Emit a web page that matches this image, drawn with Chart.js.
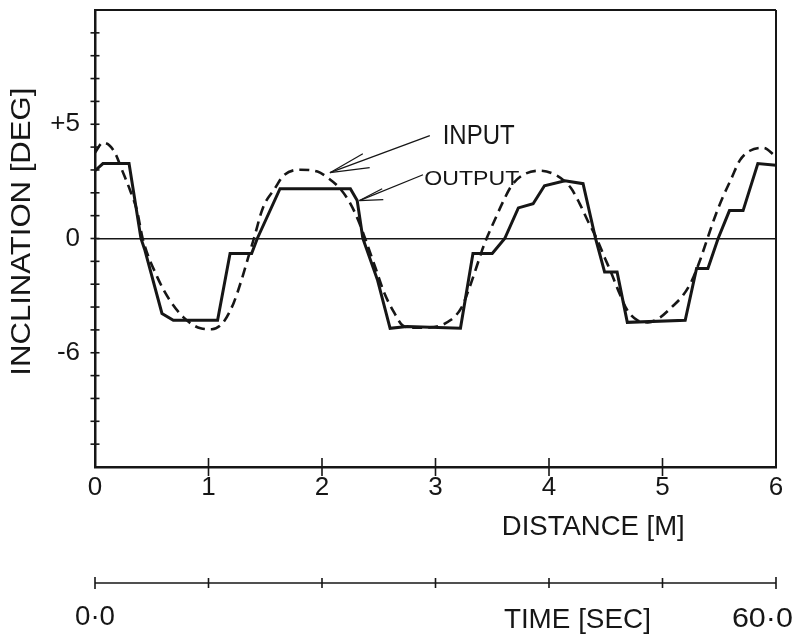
<!DOCTYPE html>
<html>
<head>
<meta charset="utf-8">
<script src="https://cdn.jsdelivr.net/npm/chart.js@4.4.1/dist/chart.umd.min.js"></script>
<style>
  html, body { margin: 0; padding: 0; background: #fff; }
  #wrap { width: 800px; height: 635px; position: relative; }
</style>
</head>
<body>
<div id="wrap"><canvas id="c"></canvas></div>
<script>
// y values are in plotted tick units (one tick per unit)
const outX = [0, 0.07, 0.30, 0.405, 0.44, 0.59, 0.69, 1.08, 1.19, 1.38, 1.43, 1.63, 2.25, 2.31, 2.36, 2.49, 2.60, 2.75, 3.22, 3.33, 3.50, 3.61, 3.73, 3.86, 3.96, 4.14, 4.30, 4.41, 4.49, 4.60, 4.69, 5.20, 5.30, 5.40, 5.49, 5.59, 5.71, 5.84, 6.0];
const outY = [2.97, 3.28, 3.28, 0, -0.52, -3.28, -3.58, -3.58, -0.66, -0.66, 0, 2.18, 2.18, 1.66, 0, -1.83, -3.93, -3.85, -3.93, -0.66, -0.66, 0, 1.34, 1.52, 2.31, 2.53, 2.40, 0, -1.47, -1.47, -3.67, -3.58, -1.31, -1.31, 0, 1.22, 1.22, 3.28, 3.2];

const inX = [0, 0.07, 0.13, 0.18, 0.24, 0.31, 0.37, 0.42, 0.55, 0.66, 0.78, 0.93, 1.03, 1.13, 1.22, 1.29, 1.35, 1.40, 1.48, 1.59, 1.66, 1.81, 1.96, 2.05, 2.16, 2.25, 2.32, 2.38, 2.47, 2.55, 2.64, 2.71, 2.80, 2.95, 3.13, 3.23, 3.30, 3.36, 3.41, 3.45, 3.52, 3.60, 3.67, 3.76, 3.92, 4.07, 4.19, 4.27, 4.34, 4.42, 4.49, 4.54, 4.61, 4.69, 4.78, 4.87, 4.98, 5.08, 5.18, 5.26, 5.33, 5.39, 5.46, 5.53, 5.61, 5.68, 5.77, 5.89, 5.99];
const inY = [3.76, 4.19, 4.06, 3.71, 2.97, 2.10, 1.22, 0, -1.70, -2.71, -3.45, -3.93, -3.97, -3.67, -2.84, -1.83, -0.83, 0, 1.35, 2.23, 2.75, 3.01, 2.93, 2.66, 2.18, 1.53, 0.79, 0, -1.27, -2.40, -3.28, -3.80, -3.90, -3.89, -3.58, -3.01, -2.14, -1.27, -0.52, 0, 0.79, 1.66, 2.31, 2.75, 2.97, 2.75, 2.23, 1.53, 0.79, 0, -0.83, -1.40, -2.27, -3.14, -3.58, -3.67, -3.45, -3.01, -2.49, -1.83, -0.96, -0.09, 0.92, 1.79, 2.66, 3.41, 3.84, 3.97, 3.62];

const yTickLabels = { 5: '+5', 0: '0', '-5': '-6' };
const timeLabels = ['0·0', '60·0'];

const INK = '#161616';
const FONT = '"Liberation Sans", Arial, sans-serif';

// draw text centred on (cx, cy) with a given cap height, squeezed to width w
function txt(ctx, s, cx, cy, cap, w, rot) {
  const size = cap / 0.72;
  ctx.save();
  ctx.font = `${size}px ${FONT}`;
  ctx.fillStyle = INK;
  ctx.textAlign = 'center';
  ctx.textBaseline = 'alphabetic';
  ctx.translate(cx, cy);
  if (rot) ctx.rotate(rot);
  if (w) ctx.scale(w / ctx.measureText(s).width, 1);
  ctx.fillText(s, 0, cap / 2);
  ctx.restore();
}

function seg(ctx, x1, y1, x2, y2, lw) {
  ctx.lineWidth = lw;
  ctx.beginPath(); ctx.moveTo(x1, y1); ctx.lineTo(x2, y2); ctx.stroke();
}

const decor = {
  id: 'decor',
  afterDraw(chart) {
    const { ctx, chartArea: a, scales: { x, y } } = chart;
    const px = v => x.getPixelForValue(v);
    const py = v => y.getPixelForValue(v);
    ctx.save();
    ctx.strokeStyle = INK;
    ctx.lineCap = 'butt';

    // top and right of the frame
    seg(ctx, a.left, a.top, a.right, a.top, 2);
    seg(ctx, a.right, a.top, a.right, a.bottom, 2);

    // cross ticks on the y axis
    y.ticks.forEach(t => {
      if (t.value <= -10 || t.value >= 10) return;
      seg(ctx, a.left - 4.5, py(t.value), a.left + 4.5, py(t.value), 1.6);
    });
    // cross ticks on the distance axis
    x.ticks.forEach(t => {
      if (t.value <= 0 || t.value >= 6) return;
      seg(ctx, px(t.value), a.bottom - 9, px(t.value), a.bottom + 9, 1.6);
    });

    // time axis below
    const ty = a.bottom + 116;
    seg(ctx, a.left, ty, a.right, ty, 1.5);
    x.ticks.forEach(t => {
      const h = (t.value === 0 || t.value === 6) ? 6 : 5;
      seg(ctx, px(t.value), ty - h, px(t.value), ty + h, 1.6);
    });
    txt(ctx, timeLabels[0], px(0), ty + 32, 20, 40);
    txt(ctx, timeLabels[1], px(5.88), ty + 34, 20, 61);
    txt(ctx, 'TIME [SEC]', px(4.25), ty + 35, 20, 147);

    // axis titles
    txt(ctx, 'DISTANCE [M]', px(4.39), a.bottom + 58, 20, 183);
    txt(ctx, 'INCLINATION [DEG]', 20, py(0.3), 20, 288, -Math.PI / 2);

    // annotations with leader arrows
    txt(ctx, 'INPUT', px(3.38), py(4.59), 20, 72);
    txt(ctx, 'OUTPUT', px(3.32), py(2.66), 15, 95);
    const arrows = [
      { tip: [2.07, 2.88], tail: [2.95, 4.50], barbs: [[2.36, 3.71], [2.42, 3.10]] },
      { tip: [2.33, 1.66], tail: [2.89, 2.79], barbs: [[2.53, 2.18], [2.54, 1.70]] },
    ];
    arrows.forEach(r => {
      seg(ctx, px(r.tip[0]), py(r.tip[1]), px(r.tail[0]), py(r.tail[1]), 1.3);
      r.barbs.forEach(b => seg(ctx, px(r.tip[0]), py(r.tip[1]), px(b[0]), py(b[1]), 1.2));
    });
    ctx.restore();
  },
};

new Chart(document.getElementById('c'), {
  type: 'line',
  data: {
    datasets: [
      { label: 'OUTPUT', data: outX.map((v, i) => ({ x: v, y: outY[i] })),
        borderColor: INK, borderWidth: 3, pointRadius: 0, tension: 0, fill: false },
      { label: 'INPUT', data: inX.map((v, i) => ({ x: v, y: inY[i] })),
        borderColor: INK, borderWidth: 2.6, borderDash: [10, 6], pointRadius: 0,
        tension: 0.3, cubicInterpolationMode: 'monotone', fill: false },
    ],
  },
  options: {
    responsive: true, maintainAspectRatio: false, animation: false,
    layout: { padding: { left: 0, right: 24, top: 10, bottom: 0 } },
    plugins: { legend: { display: false }, tooltip: { enabled: false } },
    scales: {
      x: { type: 'linear', min: 0, max: 6,
        ticks: { stepSize: 1, maxRotation: 0, color: INK, padding: 5,
                 font: { family: FONT, size: 26 } },
        grid: { display: false, drawTicks: false },
        border: { display: true, color: INK, width: 2.5 },
        afterFit: s => { s.height = 168; s.paddingLeft = 0; s.paddingRight = 0; } },
      y: { min: -10, max: 10,
        ticks: { stepSize: 1, autoSkip: false, color: INK, padding: 15,
                 font: { family: FONT, size: 26 },
                 callback: v => yTickLabels[v] ?? '' },
        grid: { color: c => c.tick && c.tick.value === 0 ? INK : 'transparent',
                lineWidth: 1.4, drawTicks: false },
        border: { display: true, color: INK, width: 2.5 },
        afterFit: s => { s.width = 95; s.paddingTop = 0; s.paddingBottom = 0; } },
    },
  },
  plugins: [decor],
});
</script>
</body>
</html>
